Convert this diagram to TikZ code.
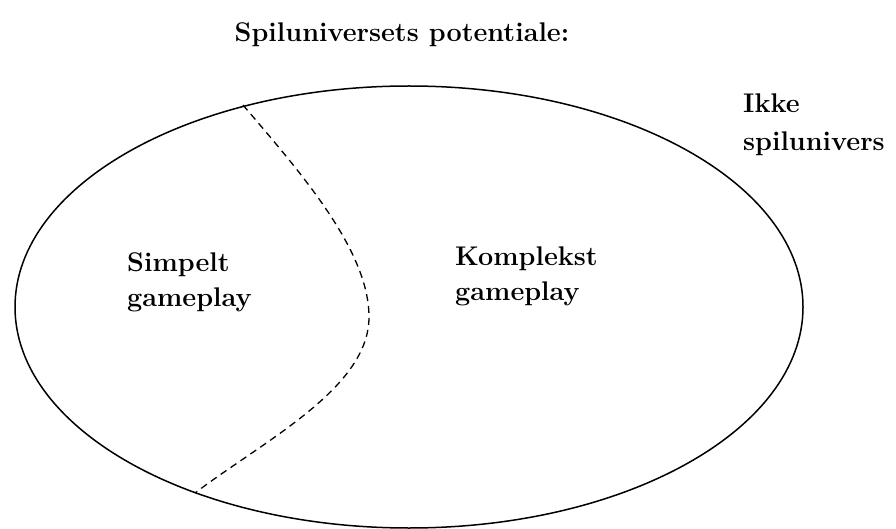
\documentclass[tikz,border=0pt]{standalone}
\usepackage{fontspec}
\usepackage{tikz}
\tikzset{
  lbl/.style={inner sep=0pt, align=left, font=\fontsize{27}{35}\selectfont\bfseries},
  outline/.style={line width=1.5pt, black},
  divider/.style={line width=1.3pt, dash pattern=on 7pt off 5pt}
}
\begin{document}
\begin{tikzpicture}[x=1pt,y=-1pt]
\useasboundingbox (0,0) rectangle (896,529);
\draw[outline] (409,307) ellipse [x radius=394, y radius=221];
\coordinate (dtop) at (243,105);
\coordinate (dmid) at (369,317);
\coordinate (dbot) at (195,493);
\draw[divider] (dtop) .. controls (300,172) and (369,250) .. (dmid)
               .. controls (369,388) and (265,440) .. (dbot);
\node[lbl, anchor=base] (title) at (402,42) {Spiluniversets potentiale:};
\node[lbl, anchor=base west] (ikke) at (743,151) {Ikke\\[3pt]spilunivers};
\node[lbl, anchor=base west] (simpelt) at (127,306) {Simpelt\\gameplay};
\node[lbl, anchor=base west] (kompleks) at (455,300) {Komplekst\\gameplay};
\end{tikzpicture}
\end{document}
